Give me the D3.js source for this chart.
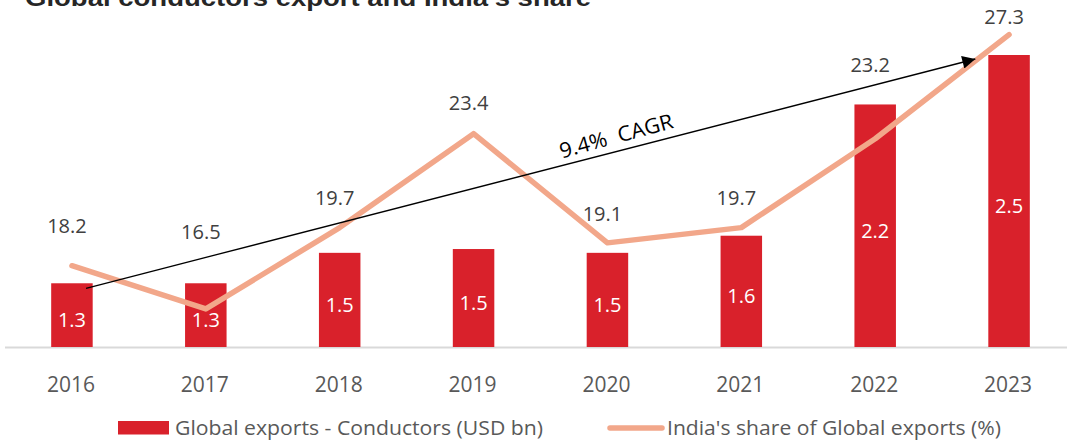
<!DOCTYPE html>
<html>
<head>
<meta charset="utf-8">
<script src="https://cdn.jsdelivr.net/npm/d3@7"></script>
<style>
  body { margin: 0; background: #fff; }
  svg { display: block; }
</style>
</head>
<body>
<script>
// Chart data
const years = ["2016", "2017", "2018", "2019", "2020", "2021", "2022", "2023"];
const exportsUsdBn = [1.30, 1.30, 1.46, 1.48, 1.46, 1.55, 2.24, 2.50];
const indiaShare = [18.2, 16.5, 19.7, 23.4, 19.1, 19.7, 23.2, 27.3];
const cagrLabel = "9.4%  CAGR";
const barName = "Global exports - Conductors (USD bn)";
const lineName = "India's share of Global exports (%)";
const title = "Global conductors export and India's share";

// How far each share label sits above its point (manual placement as in the original)
const labelLift = [33, 70, 23, 24, 22, 23, 67, 11];

const width = 1067, height = 443;
const baseY = 347;

const svg = d3.select("body").append("svg")
    .attr("width", width)
    .attr("height", height)
    .style("font-family", "'Open Sans', sans-serif");

const x = d3.scaleBand()
    .domain(years)
    .range([5, 1076])
    .paddingInner(0.69)
    .paddingOuter(0.345);

// Bars use their own axis, which does not start at zero
const yBar = d3.scaleLinear()
    .domain([0.965, 2.5])
    .range([baseY, 55]);

const yLine = d3.scaleLinear()
    .domain([15, 30])
    .range([baseY, -34]);

const cx = d => x(d) + x.bandwidth() / 2;

// Title (cut off at the top, like the source)
svg.append("text")
    .attr("x", 25)
    .attr("y", 6)
    .attr("font-family", "'Liberation Sans', Arial, sans-serif")
    .attr("font-weight", "bold")
    .attr("font-size", 24)
    .attr("fill", "#262626")
    .attr("textLength", 566)
    .attr("lengthAdjust", "spacingAndGlyphs")
    .text(title);

// Baseline
svg.append("line")
    .attr("x1", 5)
    .attr("x2", width)
    .attr("y1", baseY + 0.5)
    .attr("y2", baseY + 0.5)
    .attr("stroke", "#d9d9d9")
    .attr("stroke-width", 2);

// Bars
svg.append("g")
  .selectAll("rect")
  .data(exportsUsdBn)
  .join("rect")
    .attr("x", (d, i) => x(years[i]))
    .attr("y", d => yBar(d))
    .attr("width", x.bandwidth())
    .attr("height", d => baseY - yBar(d))
    .attr("fill", "#d9212b");

// Bar value labels
svg.append("g")
    .attr("text-anchor", "middle")
    .attr("fill", "#fff")
    .attr("font-size", 20)
  .selectAll("text")
  .data(exportsUsdBn)
  .join("text")
    .attr("x", (d, i) => cx(years[i]))
    .attr("y", d => (yBar(d) + baseY) / 2 + 12)
    .text(d => d3.format(".1f")(d));

// Year labels
svg.append("g")
    .attr("text-anchor", "middle")
    .attr("fill", "#595959")
    .attr("font-size", 21)
  .selectAll("text")
  .data(years)
  .join("text")
    .attr("x", d => cx(d) - 1)
    .attr("y", 392)
    .text(d => d);

// Share line
const line = d3.line()
    .x((d, i) => cx(years[i]))
    .y(d => yLine(d));

svg.append("path")
    .datum(indiaShare)
    .attr("d", line)
    .attr("fill", "none")
    .attr("stroke", "#f2a78a")
    .attr("stroke-width", 5.5)
    .attr("stroke-linecap", "round")
    .attr("stroke-linejoin", "round");

// Share labels
svg.append("g")
    .attr("text-anchor", "middle")
    .attr("fill", "#404040")
    .attr("font-size", 20)
  .selectAll("text")
  .data(indiaShare)
  .join("text")
    .attr("x", (d, i) => cx(years[i]) - 5)
    .attr("y", (d, i) => yLine(d) - labelLift[i])
    .text(d => d3.format(".1f")(d));

// CAGR arrow
svg.append("defs").append("marker")
    .attr("id", "head")
    .attr("viewBox", "0 0 10 10")
    .attr("refX", 10)
    .attr("refY", 5)
    .attr("markerUnits", "userSpaceOnUse")
    .attr("markerWidth", 17)
    .attr("markerHeight", 13)
    .attr("orient", "auto")
  .append("path")
    .attr("d", "M0,0L10,5L0,10Z")
    .attr("fill", "#000");

const a0 = [x(years[0]) + x.bandwidth() * 0.84, yBar(exportsUsdBn[0]) + 5];
const a1 = [x(years[years.length - 1]) - 13, yBar(exportsUsdBn[exportsUsdBn.length - 1]) + 4];

svg.append("line")
    .attr("x1", a0[0])
    .attr("y1", a0[1])
    .attr("x2", a1[0])
    .attr("y2", a1[1])
    .attr("stroke", "#000")
    .attr("stroke-width", 1.3)
    .attr("marker-end", "url(#head)");

const angle = Math.atan2(a1[1] - a0[1], a1[0] - a0[0]) * 180 / Math.PI;
const t = 0.537;
svg.append("text")
    .attr("transform", `translate(${a0[0] + (a1[0] - a0[0]) * t},${a0[1] + (a1[1] - a0[1]) * t}) rotate(${angle - 0.8})`)
    .attr("y", -7)
    .attr("font-size", 21)
    .attr("fill", "#000")
    .attr("textLength", 117)
    .attr("lengthAdjust", "spacingAndGlyphs")
    .style("white-space", "pre")
    .text(cagrLabel);

// Legend
const legend = svg.append("g")
    .attr("font-size", 20)
    .attr("fill", "#595959");

legend.append("rect")
    .attr("x", 118)
    .attr("y", 421)
    .attr("width", 51)
    .attr("height", 13.5)
    .attr("fill", "#d9212b");

legend.append("text")
    .attr("x", 175)
    .attr("y", 435)
    .attr("textLength", 368)
    .attr("lengthAdjust", "spacingAndGlyphs")
    .text(barName);

legend.append("line")
    .attr("x1", 610)
    .attr("x2", 662)
    .attr("y1", 428)
    .attr("y2", 428)
    .attr("stroke", "#f2a78a")
    .attr("stroke-width", 5.5)
    .attr("stroke-linecap", "round");

legend.append("text")
    .attr("x", 667)
    .attr("y", 435)
    .attr("textLength", 334)
    .attr("lengthAdjust", "spacingAndGlyphs")
    .text(lineName);
</script>
</body>
</html>
